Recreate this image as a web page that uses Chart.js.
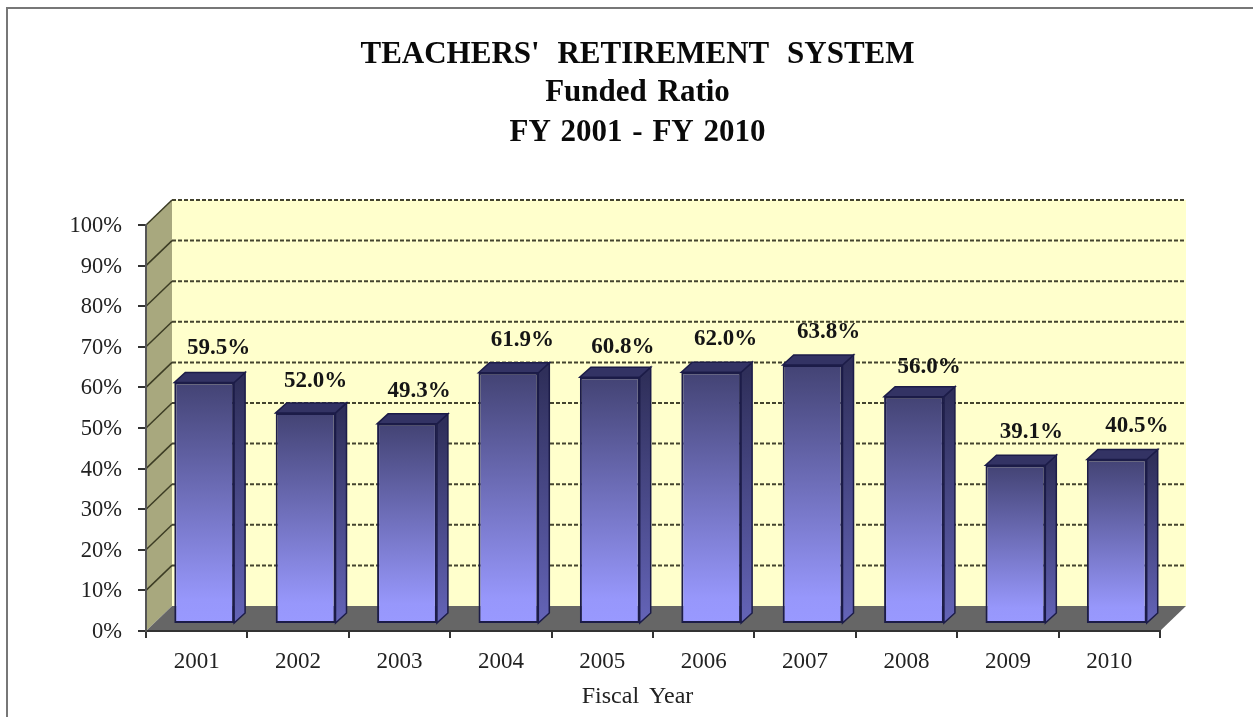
<!DOCTYPE html>
<html>
<head>
<meta charset="utf-8">
<title>Funded Ratio</title>
<script src="https://cdn.jsdelivr.net/npm/chart.js@4/dist/chart.umd.js"></script>
<style>
    html, body { margin: 0; padding: 0; background: #fff; overflow: hidden; }
    #wrap { position: relative; width: 1253px; height: 717px; }
    #frame { position: absolute; left: 6px; top: 7px; width: 1247px; height: 710px;
             border-left: 2px solid #777; border-top: 2px solid #777; box-sizing: border-box; }
    canvas { position: absolute; left: 0; top: 0; filter: blur(0.4px); }
</style>
</head>
<body>
<div id="wrap">
    <div id="frame"></div>
    <canvas id="chart" width="1253" height="717"></canvas>
</div>
<script>
'use strict';

const years  = ['2001', '2002', '2003', '2004', '2005', '2006', '2007', '2008', '2009', '2010'];
const funded = [59.5, 52.0, 49.3, 61.9, 60.8, 62.0, 63.8, 56.0, 39.1, 40.5];
const titleLines = ["TEACHERS' RETIREMENT SYSTEM", 'Funded Ratio', 'FY 2001 - FY 2010'];
const xTitle = 'Fiscal Year';

// hand placed in the original, so kept apart from the values
const labelShift = [[14.5, -24.4], [10, -21.5], [12, -23], [14, -22.7], [13, -20.2],
                    [14.3, -23.3], [16, -23], [15, -19.6], [16, -23.3], [20, -23.6]];
const titleY = [55, 93, 132.5];
const titleWordGap = ['10px', '3px', '2px'];

const SERIF = '"Liberation Serif", serif';
const DEPTH_X = 26, DEPTH_Y = 25;   // wall depth
const BAR_DX = 7.5, BAR_DY = 7;     // bars stand in the middle of the floor
const SIDE_X = 11, SIDE_Y = 10;     // bar depth

const walls3d = {
    id: 'walls3d',
    beforeDraw(chart) {
        const ctx = chart.ctx, a = chart.chartArea, y = chart.scales.y;
        ctx.save();
        // title is centred by hand, the original is not centred on the plot
        ctx.font = 'bold 31px ' + SERIF;
        ctx.fillStyle = '#0a0a0a';
        ctx.textAlign = 'center';
        ctx.textBaseline = 'middle';
        titleLines.forEach((line, i) => {
            ctx.wordSpacing = titleWordGap[i];
            ctx.fillText(line, 637.5, titleY[i]);
        });
        // back wall
        ctx.fillStyle = '#ffffcc';
        ctx.fillRect(a.left + DEPTH_X, a.top - DEPTH_Y, a.width, a.height);
        // left wall
        ctx.fillStyle = '#a8a87e';
        ctx.beginPath();
        ctx.moveTo(a.left, a.top);
        ctx.lineTo(a.left + DEPTH_X, a.top - DEPTH_Y);
        ctx.lineTo(a.left + DEPTH_X, a.bottom - DEPTH_Y);
        ctx.lineTo(a.left, a.bottom);
        ctx.closePath();
        ctx.fill();
        // floor
        ctx.fillStyle = '#666666';
        ctx.beginPath();
        ctx.moveTo(a.left, a.bottom);
        ctx.lineTo(a.left + DEPTH_X, a.bottom - DEPTH_Y);
        ctx.lineTo(a.right + DEPTH_X, a.bottom - DEPTH_Y);
        ctx.lineTo(a.right, a.bottom);
        ctx.closePath();
        ctx.fill();
        // grid lines, dashed on the back wall and solid across the left one
        y.ticks.forEach(t => {
            if (t.value === 0) return;
            const py = y.getPixelForValue(t.value);
            ctx.setLineDash([]);
            ctx.strokeStyle = '#3c3c24';
            ctx.lineWidth = 1.5;
            ctx.beginPath();
            ctx.moveTo(a.left, py);
            ctx.lineTo(a.left + DEPTH_X, py - DEPTH_Y);
            ctx.stroke();
            ctx.setLineDash([4, 2]);
            ctx.strokeStyle = '#44442e';
            ctx.lineWidth = 2;
            ctx.beginPath();
            ctx.moveTo(a.left + DEPTH_X, py - DEPTH_Y);
            ctx.lineTo(a.right + DEPTH_X, py - DEPTH_Y);
            ctx.stroke();
        });
        ctx.restore();
    },
    beforeDatasetsDraw(chart) {
        const ctx = chart.ctx;
        ctx.save();
        ctx.translate(BAR_DX, -BAR_DY);
        chart.getDatasetMeta(0).data.forEach(bar => {
            const p = bar.getProps(['x', 'y', 'base', 'width'], true);
            const right = p.x + p.width / 2, left = p.x - p.width / 2;
            const side = ctx.createLinearGradient(0, p.y, 0, p.base);
            side.addColorStop(0, '#2f2f5a');
            side.addColorStop(1, '#6464b8');
            ctx.lineWidth = 1.5;
            ctx.strokeStyle = '#1c1c48';
            ctx.fillStyle = side;
            ctx.beginPath();
            ctx.moveTo(right, p.y);
            ctx.lineTo(right + SIDE_X, p.y - SIDE_Y);
            ctx.lineTo(right + SIDE_X, p.base - SIDE_Y);
            ctx.lineTo(right, p.base);
            ctx.closePath();
            ctx.fill();
            ctx.stroke();
            ctx.fillStyle = '#333364';
            ctx.beginPath();
            ctx.moveTo(left, p.y);
            ctx.lineTo(left + SIDE_X, p.y - SIDE_Y);
            ctx.lineTo(right + SIDE_X, p.y - SIDE_Y);
            ctx.lineTo(right, p.y);
            ctx.closePath();
            ctx.fill();
            ctx.stroke();
        });
    },
    afterDatasetsDraw(chart) {
        const ctx = chart.ctx;
        ctx.restore();
        ctx.save();
        ctx.font = 'bold 23px ' + SERIF;
        ctx.fillStyle = '#151515';
        ctx.textAlign = 'center';
        ctx.textBaseline = 'middle';
        chart.getDatasetMeta(0).data.forEach((bar, i) => {
            const p = bar.getProps(['x', 'y'], true);
            ctx.fillText(funded[i].toFixed(1) + '%',
                p.x + BAR_DX + labelShift[i][0],
                p.y - BAR_DY - SIDE_Y + labelShift[i][1]);
        });
        // axis title sits left of the plot centre in the original
        ctx.wordSpacing = '4px';
        ctx.font = '24px ' + SERIF;
        ctx.fillStyle = '#222';
        ctx.fillText(xTitle, 637.5, 697);
        ctx.restore();
    }
};

new Chart(document.getElementById('chart'), {
    type: 'bar',
    data: {
        labels: years,
        datasets: [{
            data: funded,
            barPercentage: 0.59,
            categoryPercentage: 1,
            borderWidth: 2,
            borderSkipped: false,
            borderColor: '#1c1c48',
            clip: false,
            backgroundColor(c) {
                if (!c.chart.chartArea || c.parsed === undefined) return '#666699';
                const y = c.chart.scales.y;
                const g = c.chart.ctx.createLinearGradient(0, y.getPixelForValue(c.parsed.y), 0, y.getPixelForValue(0));
                g.addColorStop(0, '#434374');
                g.addColorStop(0.9, '#9797fb');
                g.addColorStop(1, '#9999ff');
                return g;
            }
        }]
    },
    plugins: [walls3d],
    options: {
        responsive: false,
        animation: false,
        layout: {padding: {left: 36, right: 93, top: 225, bottom: 6}},
        plugins: {
            legend: {display: false},
            tooltip: {enabled: false}
        },
        scales: {
            x: {
                grid: {drawOnChartArea: false, color: '#333', tickLength: 7, lineWidth: 2},
                border: {color: '#333', width: 2},
                ticks: {color: '#222', font: {family: SERIF, size: 23}, padding: 10, maxRotation: 0},
                afterFit(s) { s.height = 80; }
            },
            y: {
                min: 0,
                max: 100,
                grid: {drawOnChartArea: false, color: '#333', tickLength: 8, lineWidth: 2},
                border: {color: '#555', width: 2},
                ticks: {
                    stepSize: 10,
                    color: '#222',
                    font: {family: SERIF, size: 22.5},
                    padding: 16,
                    labelOffset: 1,
                    callback: v => v + '%'
                },
                afterFit(s) { s.width = 110; }
            }
        }
    }
});
</script>
</body>
</html>
